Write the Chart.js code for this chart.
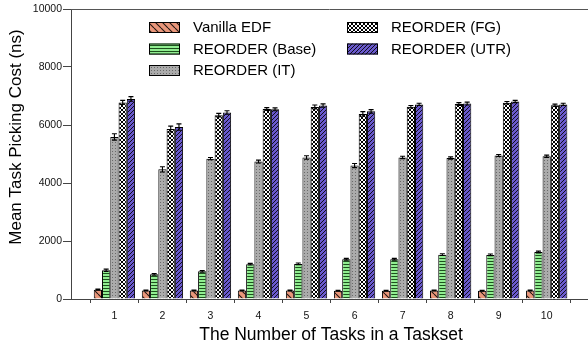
<!DOCTYPE html>
<html>
<head>
<meta charset="utf-8">
<script src="https://cdn.jsdelivr.net/npm/chart.js@4/dist/chart.umd.min.js"></script>
<style>
  html, body { margin: 0; padding: 0; background: #fff; }
  #wrap { width: 588px; height: 343px; }
</style>
</head>
<body>
<div id="wrap"><canvas id="c" width="588" height="343"></canvas></div>
<script>
// Number of tasks per taskset (x positions)
const taskCounts = [1, 2, 3, 4, 5, 6, 7, 8, 9, 10];

// Mean task picking cost (ns) per scheduler variant
const vanillaEDF   = [320, 290, 290, 290, 290, 285, 285, 290, 285, 290];
const reorderBase  = [990, 850, 955, 1200, 1210, 1370, 1370, 1530, 1520, 1620];
const reorderIT    = [5590, 4470, 4840, 4740, 4880, 4600, 4880, 4860, 4950, 4920];
const reorderFG    = [6780, 5860, 6340, 6550, 6620, 6380, 6630, 6720, 6770, 6680];
const reorderUTR   = [6900, 5930, 6430, 6540, 6670, 6470, 6710, 6740, 6810, 6710];

// Error bar half-widths (ns)
const vanillaErr = [20, 15, 15, 15, 15, 15, 15, 15, 15, 15];
const baseErr    = [40, 30, 30, 30, 30, 30, 30, 30, 30, 30];
const itErr      = [110, 90, 40, 50, 60, 70, 40, 40, 35, 40];
const fgErr      = [70, 100, 60, 50, 70, 80, 40, 50, 40, 40];
const utrErr     = [80, 110, 60, 50, 60, 60, 40, 50, 40, 40];

// Axis ticks
const yTicks = [0, 2000, 4000, 6000, 8000, 10000];

const FONT = '"Liberation Sans", Arial, sans-serif';

function makePattern(bg, size, draw) {
  const c = document.createElement('canvas');
  c.width = size; c.height = size;
  const g = c.getContext('2d');
  g.fillStyle = bg;
  g.fillRect(0, 0, size, size);
  draw(g, size);
  return g.createPattern(c, 'repeat');
}

const patBack = makePattern('#E9967A', 7, (g, s) => {
  g.strokeStyle = 'rgba(0,0,0,0.85)'; g.lineWidth = 1.1;
  g.beginPath();
  for (const k of [-s, 0, s]) { g.moveTo(k, 0); g.lineTo(k + s, s); }
  g.stroke();
});
const patHoriz = makePattern('#90EE90', 3, (g, s) => {
  g.fillStyle = 'rgba(0,40,0,0.8)';
  g.fillRect(0, 0, s, 1);
});
const patDots = makePattern('#ABABAB', 3, (g, s) => {
  g.fillStyle = '#6a6a6a';
  g.fillRect(1, 1, 1, 1);
});
const patCross = makePattern('#ffffff', 4, (g, s) => {
  g.strokeStyle = '#000'; g.lineWidth = 1;
  g.beginPath();
  for (const k of [-s, 0, s]) {
    g.moveTo(k, 0); g.lineTo(k + s, s);
    g.moveTo(k, s); g.lineTo(k + s, 0);
  }
  g.stroke();
});
const patFwd = makePattern('#6A5ACD', 4, (g, s) => {
  g.strokeStyle = 'rgba(0,0,0,0.85)'; g.lineWidth = 1;
  g.beginPath();
  for (const k of [-s, 0, s]) { g.moveTo(k, s); g.lineTo(k + s, 0); }
  g.stroke();
});

function pts(vals) { return vals.map((v, i) => ({ x: taskCounts[i], y: v })); }

const series = [
  { label: 'Vanilla EDF',     vals: vanillaEDF,  err: vanillaErr, fill: patBack },
  { label: 'REORDER (Base)',  vals: reorderBase, err: baseErr,    fill: patHoriz },
  { label: 'REORDER (IT)',    vals: reorderIT,   err: itErr,      fill: patDots },
  { label: 'REORDER (FG)',    vals: reorderFG,   err: fgErr,      fill: patCross },
  { label: 'REORDER (UTR)',   vals: reorderUTR,  err: utrErr,     fill: patFwd },
];

const datasets = series.map(s => ({
  label: s.label,
  data: pts(s.vals),
  errors: s.err,
  backgroundColor: s.fill,
  borderColor: '#000',
  borderWidth: 1,
  categoryPercentage: 0.86,
  barPercentage: 1.0,
}));

// Error bars, top border, the two-column legend and axis titles
const decorations = {
  id: 'decorations',
  afterDatasetsDraw(chart) {
    const ctx = chart.ctx;
    const ys = chart.scales.y;
    ctx.save();
    ctx.strokeStyle = '#000';
    ctx.lineWidth = 1.1;
    chart.data.datasets.forEach((ds, di) => {
      const meta = chart.getDatasetMeta(di);
      meta.data.forEach((bar, i) => {
        const v = ds.data[i].y, e = ds.errors[i];
        const x = bar.x;
        const yt = ys.getPixelForValue(v + e);
        const yb = ys.getPixelForValue(v - e);
        ctx.beginPath();
        ctx.moveTo(x, yt); ctx.lineTo(x, yb);
        ctx.moveTo(x - 2.5, yt); ctx.lineTo(x + 2.5, yt);
        ctx.moveTo(x - 2.5, yb); ctx.lineTo(x + 2.5, yb);
        ctx.stroke();
      });
    });
    ctx.restore();
  },
  afterDraw(chart) {
    const ctx = chart.ctx;
    const a = chart.chartArea;
    ctx.save();
    // top frame line
    ctx.strokeStyle = '#555';
    ctx.lineWidth = 1;
    ctx.beginPath();
    ctx.moveTo(a.left, Math.round(a.top) + 0.5);
    ctx.lineTo(a.right, Math.round(a.top) + 0.5);
    ctx.stroke();

    // legend
    const cols = [
      { sx: 149, tx: 193, rows: [0, 1, 2] },
      { sx: 347, tx: 391, rows: [3, 4] },
    ];
    const rowY = [22, 43.5, 65];
    ctx.font = '15px ' + FONT;
    ctx.textBaseline = 'middle';
    ctx.textAlign = 'left';
    cols.forEach(col => {
      col.rows.forEach((di, r) => {
        const ds = chart.data.datasets[di];
        const y = rowY[r];
        ctx.fillStyle = ds.backgroundColor;
        ctx.fillRect(col.sx, y, 31, 11);
        ctx.strokeStyle = '#000';
        ctx.lineWidth = 1;
        ctx.strokeRect(col.sx + 0.5, y + 0.5, 30, 10);
        ctx.fillStyle = '#000';
        ctx.fillText(ds.label, col.tx, y + 6);
      });
    });

    // axis titles
    ctx.fillStyle = '#000';
    ctx.font = '17.5px ' + FONT;
    ctx.textAlign = 'center';
    ctx.textBaseline = 'alphabetic';
    ctx.fillText('The Number of Tasks in a Taskset', 331, 340);
    ctx.translate(21, 137);
    ctx.rotate(-Math.PI / 2);
    ctx.font = '17px ' + FONT;
    ctx.fillText('Mean Task Picking Cost (ns)', 0, 0);
    ctx.restore();
  }
};

new Chart(document.getElementById('c'), {
  type: 'bar',
  data: { datasets },
  options: {
    responsive: false,
    animation: false,
    devicePixelRatio: 1,
    layout: { padding: { top: 9, right: 0, left: 0, bottom: 0 } },
    plugins: { legend: { display: false }, tooltip: { enabled: false } },
    scales: {
      x: {
        type: 'linear',
        min: 0.096,
        max: 10.86,
        offset: false,
        afterBuildTicks(scale) { scale.ticks = taskCounts.map(v => ({ value: v })); },
        afterFit(scale) { scale.height = 44; },
        grid: { display: true, drawOnChartArea: false, drawTicks: true, tickLength: 4, color: '#444', tickColor: '#444' },
        border: { display: true, color: '#444', width: 1 },
        ticks: { font: { family: FONT, size: 10.5 }, color: '#111', padding: 7, maxRotation: 0, autoSkip: false,
                 callback: v => String(v) },
      },
      y: {
        min: 0,
        max: 10000,
        afterBuildTicks(scale) { scale.ticks = yTicks.map(v => ({ value: v })); },
        afterFit(scale) { scale.width = 71; },
        grid: { display: true, drawOnChartArea: false, drawTicks: true, tickLength: 8, color: '#444', tickColor: '#444' },
        border: { display: true, color: '#444', width: 1 },
        ticks: { font: { family: FONT, size: 10.5 }, color: '#111', padding: 1, callback: v => String(v) },
      }
    }
  },
  plugins: [decorations]
});
</script>
</body>
</html>
